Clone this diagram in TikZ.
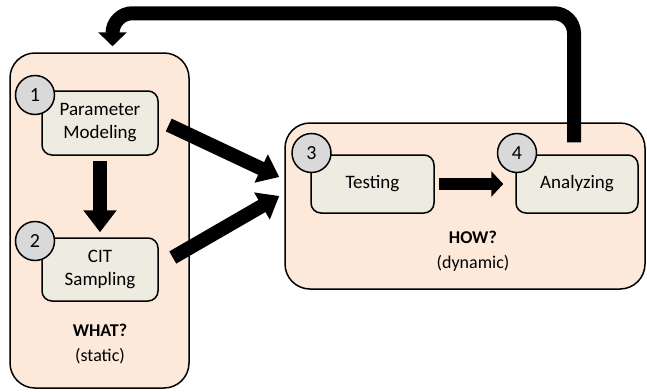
\documentclass[tikz,border=0pt]{standalone}
\usepackage{fontspec}
\setmainfont{Carlito}
\usepackage{tikz}
\usetikzlibrary{arrows.meta}
\definecolor{phasepeach}{RGB}{253, 233, 217}
\definecolor{stepkhaki}{RGB}{238, 236, 225}
\definecolor{numgray}{RGB}{217, 217, 217}

\begin{document}
\begin{tikzpicture}[x=1pt, y=-1pt,
    phase/.style={rectangle, draw=black, line width=1.5pt, fill=phasepeach, rounded corners=25pt},
    stepbox/.style={rectangle, draw=black, line width=1.5pt, fill=stepkhaki, rounded corners=10pt, align=center, font=\fontsize{19}{23}\selectfont},
    num/.style={circle, draw=black, line width=1.5pt, fill=numgray, minimum size=39pt, inner sep=0pt, font=\fontsize{20}{24}\selectfont},
    caption/.style={align=center, font=\fontsize{18}{25}\selectfont},
    fat/.style={line width=14pt, -{Triangle[width=32pt, length=22pt]}}
]
    \useasboundingbox (0,0) rectangle (647,391);

    % the two phases
    \node[phase, minimum width=179pt, minimum height=335pt] (what) at (99.5, 220.5) {};
    \node[phase, minimum width=360pt, minimum height=166pt] (how)  at (465, 206) {};

    % steps
    \node[stepbox, minimum width=116pt, minimum height=64pt] (pm)  at (100, 123)   {Parameter\\Modeling};
    \node[stepbox, minimum width=116pt, minimum height=63pt] (cit) at (100, 269.5) {CIT\\Sampling};
    \node[stepbox, minimum width=123pt, minimum height=58pt] (test) at (372.5, 184) {Testing};
    \node[stepbox, minimum width=122pt, minimum height=58pt] (ana)  at (577, 184)   {Analyzing};

    \node[num] (n1) at (35, 95)    {1};
    \node[num] (n2) at (35, 241)   {2};
    \node[num] (n3) at (311.5, 153) {3};
    \node[num] (n4) at (517, 153)  {4};

    \node[caption] (whatlbl) at (100, 344) {\textbf{WHAT?}\\(static)};
    \node[caption] (howlbl)  at (473, 251) {\textbf{HOW?}\\(dynamic)};

    % flow between steps
    \draw[fat, shorten <=5pt, shorten >=5pt] (pm.south) -- (cit.north);
    \draw[fat, line width=12pt, -{Triangle[width=25pt, length=12pt]}, shorten <=4pt, shorten >=12pt] (test.east) -- (ana.west);
    \draw[fat, -{Triangle[width=30pt, length=20pt]}] ([xshift=10pt, yshift=-2pt]pm.east) -- ([xshift=-5pt, yshift=29pt]how.west);
    \draw[fat, -{Triangle[width=30pt, length=20pt]}] ([xshift=14pt, yshift=12pt]cit.east) -- ([xshift=-5pt, yshift=10pt]how.west);

    % feedback loop
    \draw[fat, -{Triangle[width=28pt, length=14pt]}, rounded corners=20pt]
        ([xshift=-3pt, yshift=12pt]ana.north) -- ++(0,-129) -| ([xshift=13pt, yshift=6pt]what.north);
\end{tikzpicture}
\end{document}
